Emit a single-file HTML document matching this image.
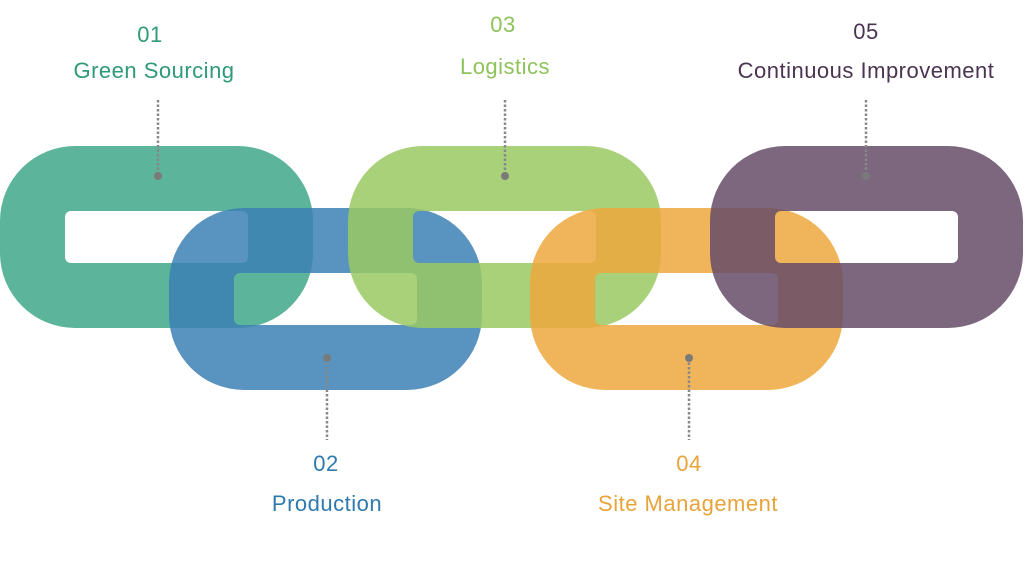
<!DOCTYPE html>
<html><head><meta charset="utf-8"><style>
html,body{margin:0;padding:0;background:#fff;width:1024px;height:581px;overflow:hidden}
svg{display:block}
text{font-family:"Liberation Sans",sans-serif;font-size:22px;text-anchor:middle;letter-spacing:0.5px}
</style></head><body>
<svg width="1024" height="581" viewBox="0 0 1024 581">
<defs>
<path id="lk" fill-rule="evenodd" d="M75 0H238A75 75 0 0 1 313 75V107A75 75 0 0 1 238 182H75A75 75 0 0 1 0 107V75A75 75 0 0 1 75 0Z M71 65H242A6 6 0 0 1 248 71V111A6 6 0 0 1 242 117H71A6 6 0 0 1 65 111V71A6 6 0 0 1 71 65Z"/>
</defs>
<g fill-opacity="0.85">
<use href="#lk" x="0" y="146" fill="rgb(63,168,137)"/>
<use href="#lk" x="169" y="208" fill="rgb(60,128,180)"/>
<use href="#lk" x="348" y="146" fill="rgb(154,201,99)"/>
<use href="#lk" x="530" y="208" fill="rgb(237,168,61)"/>
<use href="#lk" x="710" y="146" fill="rgb(102,76,104)"/>
</g>
<g stroke="#888" stroke-width="2.5" stroke-dasharray="2.5,2" fill="none">
<line x1="158" y1="100" x2="158" y2="176"/>
<line x1="505" y1="100" x2="505" y2="176"/>
<line x1="866" y1="100" x2="866" y2="176"/>
<line x1="327" y1="358" x2="327" y2="440"/>
<line x1="689" y1="358" x2="689" y2="440"/>
</g>
<g fill="#7a7a7a">
<circle cx="158" cy="176" r="4"/><circle cx="505" cy="176" r="4"/><circle cx="866" cy="176" r="4"/>
<circle cx="327" cy="358" r="4"/><circle cx="689" cy="358" r="4"/>
</g>
<text x="150" y="42" fill="#2e9a78">01</text>
<text x="154" y="78" fill="#2e9a78">Green Sourcing</text>
<text x="503" y="32" fill="#8ec25a">03</text>
<text x="505" y="74" fill="#8ec25a">Logistics</text>
<text x="866" y="39" fill="#4b3451">05</text>
<text x="866" y="78" fill="#4b3451">Continuous Improvement</text>
<text x="326" y="471" fill="#2f79ad">02</text>
<text x="327" y="511" fill="#2f79ad">Production</text>
<text x="689" y="471" fill="#e8a33a">04</text>
<text x="688" y="511" fill="#e8a33a">Site Management</text>
</svg>
</body></html>
